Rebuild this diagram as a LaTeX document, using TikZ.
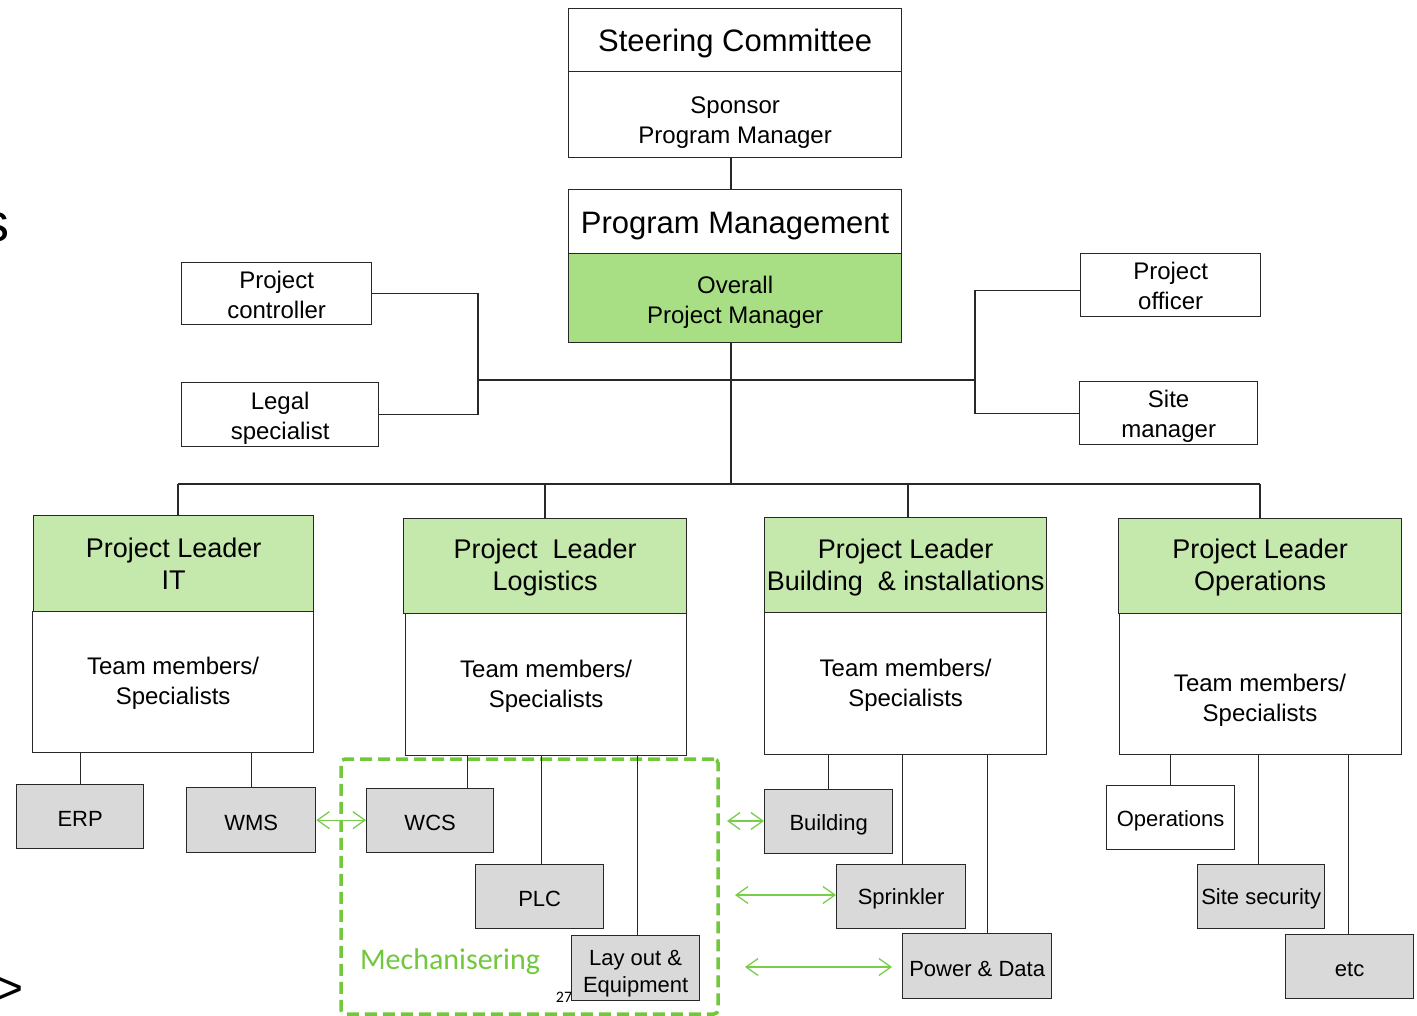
\documentclass[tikz,border=0pt]{standalone}
\usepackage{fontspec}
\setmainfont{Liberation Sans}
\newfontfamily\calibrifont{Carlito}
\usetikzlibrary{arrows.meta}
\definecolor{hdrgreen}{RGB}{197,232,172}
\definecolor{pmgreen}{RGB}{168,223,132}
\definecolor{leafgray}{RGB}{217,217,217}
\definecolor{mechgreen}{RGB}{114,200,60}
\definecolor{linkgreen}{RGB}{120,205,75}
\definecolor{edge}{RGB}{40,40,40}
% tall invisible strut at the start of a first line, lowering a text block in its box
\newcommand\lowerby[1]{\rule{0pt}{#1pt}}

\begin{document}
\begin{tikzpicture}[x=1pt,y=-1pt,
  box/.style={draw=edge,line width=1.3pt,fill=white,inner sep=0pt,align=center,anchor=north west,
              font=\fontsize{24}{30}\selectfont},
  sz/.style 2 args={minimum width=#1pt,minimum height=#2pt},
  lift/.style={execute at begin node={\rule{0pt}{#1pt}}},
  titlebox/.style={box,font=\fontsize{31}{36}\selectfont},
  header/.style={box,fill=hdrgreen,font=\fontsize{27}{32}\selectfont},
  leaf/.style={box,fill=leafgray,font=\fontsize{22}{27}\selectfont,lift=20},
  leafwhite/.style={leaf,fill=white},
  wire/.style={draw=edge,line width=1.2pt},
  link/.style={draw=linkgreen,line width=1.3pt,<->,>={Straight Barb[length=12pt,width=17pt]}},
  mech/.style={draw=mechgreen,line width=3.5pt,dash pattern=on 12pt off 6pt,rounded corners=4pt,
               inner sep=0pt,outer sep=0pt,anchor=north west}
]
\useasboundingbox (0,0) rectangle (1417,1016);
\clip (0,0) rectangle (1417,1016);

% stray glyphs at the left edge
\node[inner sep=0pt,anchor=base west,font=\fontsize{54}{60}\selectfont] (edgeS) at (-18,242) {s};
\node[inner sep=0pt,anchor=base west,font=\fontsize{48}{54}\selectfont] (edgeGt) at (-5,1004) {>};

% steering committee and program management
\node[titlebox,sz={333}{63},lift=29] (sc) at (568,8) {Steering Committee};
\node[box,sz={333}{86}] (scl) at (568,71) {\lowerby{31.7}Sponsor\\Program Manager};
\node[titlebox,sz={333}{64},lift=30.6] (pmt) at (568,189) {Program Management};
\node[box,fill=pmgreen,sz={333}{89}] (pml) at (568,253) {\lowerby{25.7}Overall\\Project Manager};

% staff positions
\node[box,sz={190}{62}] (pc) at (181,262) {\lowerby{19.5}Project\\controller};
\node[box,sz={197}{64}] (lg) at (181,382) {\lowerby{25.5}Legal\\specialist};
\node[box,sz={180}{63}] (po) at (1080,253) {\lowerby{19.5}Project\\officer};
\node[box,sz={178}{63}] (sm) at (1079,381) {\lowerby{23.7}Site\\manager};

% project leaders
\node[header,sz={280}{96}] (ith) at (33,515) {Project Leader\\IT};
\node[box,sz={281}{141}] (itt) at (32,611) {\lowerby{19.5}Team members/\\Specialists};
\node[header,sz={283}{95}] (lgh) at (403,518) {\lowerby{22}Project\ \ Leader\\Logistics};
\node[box,sz={281}{142}] (lgt) at (405,613) {\lowerby{21.5}Team members/\\Specialists};
\node[header,sz={282}{95}] (bih) at (764,517) {\lowerby{23.7}Project Leader\\Building \ \& installations};
\node[box,sz={282}{142}] (bit) at (764,612) {\lowerby{21.5}Team members/\\Specialists};
\node[header,sz={283}{95}] (oph) at (1118,518) {\lowerby{22}Project Leader\\Operations};
\node[box,sz={282}{141}] (opt) at (1119,613) {};
\node[align=center,inner sep=0pt,font=\fontsize{24}{30}\selectfont] (opttext) at (1260,700) {Team members/\\Specialists};

% mechanisation frame
\node[mech,minimum width=377pt,minimum height=255pt] (mechframe) at (341,759) {};
\node[inner sep=0pt,text=mechgreen,font=\calibrifont\fontsize{30}{34}\selectfont] (mechlabel) at (450,962) {Mechanisering};
\node[inner sep=0pt,font=\calibrifont\fontsize{16}{18}\selectfont] (pagenum) at (564,997) {27};

% work packages
\node[leaf,sz={127}{64}] (erp) at (16,784) {ERP};
\node[leaf,sz={129}{65}] (wms) at (186,787) {WMS};
\node[leaf,sz={127}{64}] (wcs) at (366,788) {WCS};
\node[leaf,sz={128}{64},lift=16] (plc) at (475,864) {PLC};
\node[leaf,sz={128}{65},lift=0] (lay) at (571,935) {\lowerby{26}Lay out \&\\Equipment};
\node[leaf,sz={128}{64},lift=22.5] (bld) at (764,789) {Building};
\node[leaf,sz={129}{64}] (spr) at (836,864) {Sprinkler};
\node[leaf,sz={149}{65}] (pd) at (902,933) {Power \& Data};
\node[leafwhite,sz={128}{64},lift=22.5] (ops) at (1106,785) {Operations};
\node[leaf,sz={127}{64}] (ss) at (1197,864) {Site security};
\node[leaf,sz={128}{64}] (etc) at (1285,934) {etc};

% junctions
\coordinate (spine) at (731,484);
\coordinate (lj) at (478,380);
\coordinate (rj) at (975,380);
\coordinate (d1) at (178,484);
\coordinate (d2) at (545,484);
\coordinate (d3) at (908,484);
\coordinate (d4) at (1260,484);

% hierarchy connectors
\draw[wire] (scl.south -| spine) -- (pmt.north -| spine);
\draw[wire] (pml.south -| spine) -- (spine);
\draw[wire] (lj) -- (rj);
\draw[wire] (pc.east) -- (pc.east -| lj) -- (lg.east -| lj) -- (lg.east);
\draw[wire] ([yshift=-5pt]po.west) -- ([yshift=-5pt]po.west -| rj) -- (sm.west -| rj) -- (sm.west);
\draw[wire] (d1) -- (d4);
\draw[wire] (d1) -- (d1 |- ith.north);
\draw[wire] (d2) -- (d2 |- lgh.north);
\draw[wire] (d3) -- (d3 |- bih.north);
\draw[wire] (d4) -- (d4 |- oph.north);

% work package connectors
\draw[wire] (erp.north) -- (erp.north |- itt.south);
\draw[wire] (wms.north) -- (wms.north |- itt.south);
\draw[wire] ([xshift=37pt]wcs.north) -- ([xshift=37pt]wcs.north |- lgt.south);
\draw[wire] ([xshift=2pt]plc.north) -- ([xshift=2pt]plc.north |- lgt.south);
\draw[wire] ([xshift=2pt]lay.north) -- ([xshift=2pt]lay.north |- lgt.south);
\draw[wire] (bld.north) -- (bld.north |- bit.south);
\draw[wire] ([xshift=1.5pt]spr.north) -- ([xshift=1.5pt]spr.north |- bit.south);
\draw[wire] ([xshift=10.5pt]pd.north) -- ([xshift=10.5pt]pd.north |- bit.south);
\draw[wire] (ops.north) -- (ops.north |- opt.south);
\draw[wire] ([xshift=-2.5pt]ss.north) -- ([xshift=-2.5pt]ss.north |- opt.south);
\draw[wire] ([xshift=-1pt]etc.north) -- ([xshift=-1pt]etc.north |- opt.south);

% interface links
\coordinate (l2) at (727,821);
\coordinate (l3) at (735,895);
\coordinate (l4) at (745,967);
\draw[link] (wms.east) -- (wms.east -| wcs.west);
\draw[link] (l2) -- (l2 -| bld.west);
\draw[link] (l3) -- (l3 -| spr.west);
\draw[link] (l4) -- ([xshift=-10pt]l4 -| pd.west);
\end{tikzpicture}
\end{document}
